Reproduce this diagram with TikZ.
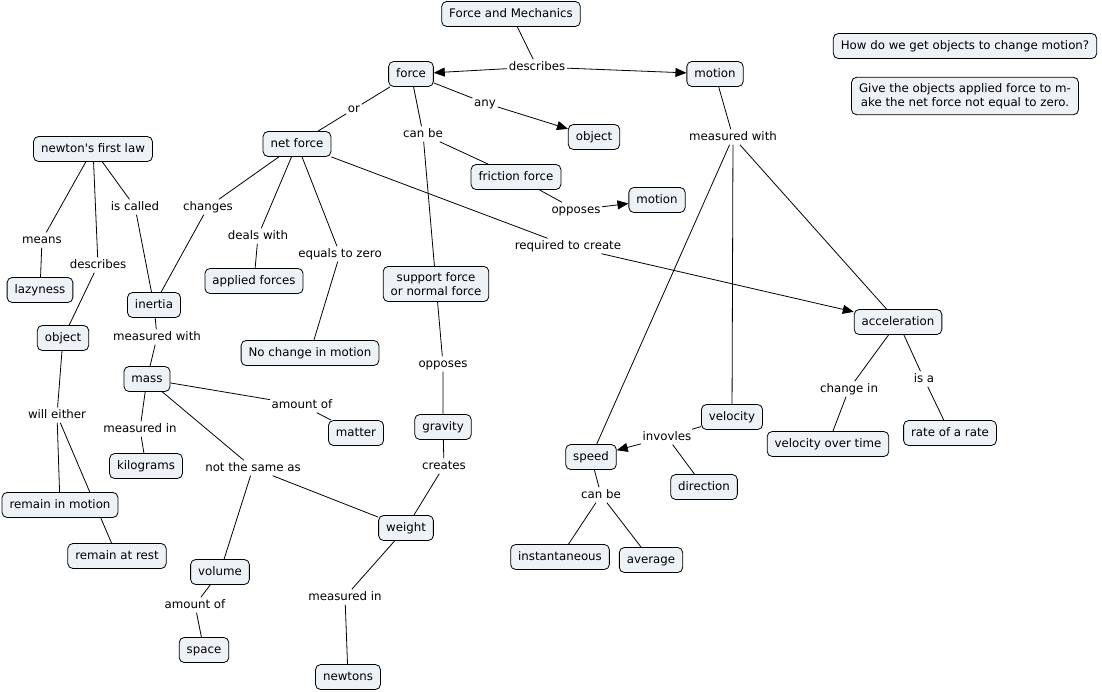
\documentclass[tikz,border=0pt]{standalone}
\usepackage{fontspec}
\setmainfont{DejaVu Sans}
\usetikzlibrary{arrows.meta,backgrounds}
\definecolor{cfill}{RGB}{236,242,245}
\newcommand{\straightapos}{\XeTeXglyph\XeTeXcharglyph"27\relax}
\begin{document}
\begin{tikzpicture}[x=1pt,y=-1pt,
 cfont/.style={font=\fontsize{11.8}{14}\selectfont},
 concept/.style={cfont, draw=black, fill=cfill, rounded corners=5pt, line width=0.8pt, inner xsep=7.5pt, inner ysep=6.5pt, text height=9pt, text depth=3pt},
 concepttwo/.style={cfont, draw=black, fill=cfill, rounded corners=5pt, line width=0.8pt, inner xsep=7.5pt, inner ysep=6pt, align=center},
 lbl/.style={cfont, inner sep=1.5pt, text height=9pt, text depth=3pt},
 link/.style={line width=0.8pt},
 arr/.style={link, -{Triangle[length=11pt,width=9pt]}}]
\useasboundingbox (0,0) rectangle (1102,691);
% concepts
\node[concept] (fm) at (511,14) {Force and Mechanics};
\node[concept] (force) at (411,74) {force};
\node[concept] (motionA) at (715,74) {motion};
\node[concept] (objectA) at (594,137) {object};
\node[concept] (net) at (297,144) {net force};
\node[concept] (nfl) at (93,149) {newton\straightapos s first law};
\node[concept] (friction) at (516,177) {friction force};
\node[concept] (motionB) at (657,200) {motion};
\node[concept] (applied) at (254,281) {applied forces};
\node[concept] (lazy) at (40,290) {lazyness};
\node[concepttwo] (support) at (436,284) {support force\\or normal force};
\node[concept] (inertia) at (154,305) {inertia};
\node[concept] (objectB) at (63,338) {object};
\node[concept] (nochange) at (310,353) {No change in motion};
\node[concept] (accel) at (898,322) {acceleration};
\node[concept] (mass) at (147,379) {mass};
\node[concept] (matter) at (356,433) {matter};
\node[concept] (gravity) at (443,427) {gravity};
\node[concept] (velocity) at (732,417) {velocity};
\node[concept] (vot) at (828,444) {velocity over time};
\node[concept] (rate) at (950,433) {rate of a rate};
\node[concept] (speed) at (591,457) {speed};
\node[concept] (kg) at (146,466) {kilograms};
\node[concept] (direction) at (704,487) {direction};
\node[concept] (rim) at (60,505) {remain in motion};
\node[concept] (weight) at (406,528) {weight};
\node[concept] (inst) at (560,557) {instantaneous};
\node[concept] (avg) at (651,560) {average};
\node[concept] (rest) at (117,556) {remain at rest};
\node[concept] (volume) at (220,572) {volume};
\node[concept] (space) at (204,650) {space};
\node[concept] (newtons) at (348,677) {newtons};
\node[concept] (q) at (965,46) {How do we get objects to change motion?};
\node[concepttwo] (ans) at (965,96) {Give the objects applied force to m-\\ake the net force not equal to zero.};
% linking phrases
\node[lbl] (ldesc) at (537,67) {describes};
\node[lbl] (lor) at (354,109) {or};
\node[lbl] (lany) at (485,103) {any};
\node[lbl] (lcanbe) at (423,134) {can be};
\node[lbl] (lopp) at (576,210) {opposes};
\node[lbl] (lchanges) at (208,207) {changes};
\node[lbl] (liscalled) at (135,207) {is called};
\node[lbl] (lmeans) at (42,240) {means};
\node[lbl] (ldescB) at (98,265) {describes};
\node[lbl] (ldeals) at (258,236) {deals with};
\node[lbl] (leq) at (340,254) {equals to zero};
\node[lbl] (lreq) at (568,246) {required to create};
\node[lbl] (lmwA) at (733,137) {measured with};
\node[lbl] (lmwB) at (157,337) {measured with};
\node[lbl] (leither) at (57,415) {will either};
\node[lbl] (lmiA) at (140,429) {measured in};
\node[lbl] (lamtA) at (302,405) {amount of};
\node[lbl] (lnsa) at (253,468) {not the same as};
\node[lbl] (lamtB) at (195,605) {amount of};
\node[lbl] (loppB) at (443,364) {opposes};
\node[lbl] (lcreates) at (444,466) {creates};
\node[lbl] (lmiB) at (345,597) {measured in};
\node[lbl] (lchg) at (849,389) {change in};
\node[lbl] (lisa) at (924,379) {is a};
\node[lbl] (linv) at (667,437) {invovles};
\node[lbl] (lcanbeB) at (601,495) {can be};
% connectors
\begin{scope}[on background layer]
\fill[white] (0,0) rectangle (1102,691);
\draw[link] (fm) -- (ldesc);
\draw[arr] (ldesc) -- (force);
\draw[arr] (ldesc) -- (motionA);
\draw[link] (force) -- (lor) -- (net);
\draw[link] (force) -- (lany);
\draw[arr] (lany) -- (objectA);
\draw[link] (force) -- (lcanbe);
\draw[link] (lcanbe) -- (friction);
\draw[link] (lcanbe) -- (support);
\draw[link] (friction) -- (lopp);
\draw[arr] (lopp) -- (motionB);
\draw[link] (net) -- (lchanges) -- (inertia);
\draw[link] (net) -- (ldeals) -- (applied);
\draw[link] (net) -- (leq) -- (nochange);
\draw[link] (net) -- (lreq);
\draw[arr] (lreq) -- (accel);
\draw[link] (nfl) -- (lmeans) -- (lazy);
\draw[link] (nfl) -- (ldescB) -- (objectB);
\draw[link] (nfl) -- (liscalled) -- (inertia);
\draw[link] (inertia) -- (lmwB) -- (mass);
\draw[link] (objectB) -- (leither);
\draw[link] (leither) -- (rim);
\draw[link] (leither) -- (rest);
\draw[link] (mass) -- (lmiA) -- (kg);
\draw[link] (mass) -- (lamtA) -- (matter);
\draw[link] (mass) -- (lnsa);
\draw[link] (lnsa) -- (volume);
\draw[link] (lnsa) -- (weight);
\draw[link] (volume) -- (lamtB) -- (space);
\draw[link] (motionA) -- (lmwA);
\draw[link] (lmwA) -- (speed);
\draw[link] (lmwA) -- (velocity);
\draw[link] (lmwA) -- (accel);
\draw[link] (accel) -- (lchg) -- (vot);
\draw[link] (accel) -- (lisa) -- (rate);
\draw[link] (support) -- (loppB) -- (gravity);
\draw[link] (gravity) -- (lcreates) -- (weight);
\draw[link] (weight) -- (lmiB) -- (newtons);
\draw[link] (velocity) -- (linv);
\draw[arr] (linv) -- (speed);
\draw[link] (linv) -- (direction);
\draw[link] (speed) -- (lcanbeB);
\draw[link] (lcanbeB) -- (inst);
\draw[link] (lcanbeB) -- (avg);
\end{scope}
\end{tikzpicture}
\end{document}
